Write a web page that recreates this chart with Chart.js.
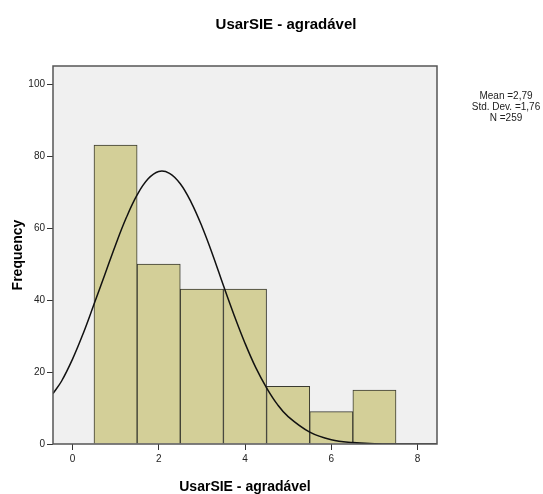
<!DOCTYPE html>
<html>
<head>
<meta charset="utf-8">
<title>UsarSIE - agradável</title>
<script src="https://cdn.jsdelivr.net/npm/chart.js@4.4.1/dist/chart.umd.min.js"></script>
<style>
  html, body { margin: 0; padding: 0; background: #fff; }
  #wrap { width: 543px; height: 494px; }
</style>
</head>
<body>
<div id="wrap"><canvas id="histChart" width="543" height="494"></canvas></div>
<script>
// Histogram bins (score values) and their counts
const scores = [1, 2, 3, 4, 5, 6, 7];
const frequency = [83, 50, 43, 43, 16, 9, 15];

// Normal curve, sampled along the x axis
const curveX = [-0.45, -0.25, 0, 0.25, 0.5, 0.75, 1, 1.25, 1.5, 1.75, 2, 2.25, 2.5, 2.75,
                3, 3.25, 3.5, 3.75, 4, 4.25, 4.5, 4.75, 5, 5.5, 6, 6.5, 7, 7.5, 8, 8.45];
const curveY = [14, 17.5, 23.5, 30.7, 38.8, 47, 55.3, 62.9, 69.2, 73.6, 75.7, 75.2, 72.3, 67.2,
                60.5, 52.6, 44, 35.7, 28, 21.2, 15.6, 11, 7.6, 3.3, 1.2, 0.4, 0.1, 0, 0, 0];

const xTicks = [0, 2, 4, 6, 8];
const yTicks = [0, 20, 40, 60, 80, 100];

const statsLines = ['Mean =2,79', 'Std. Dev. =1,76', 'N =259'];
const chartTitle = 'UsarSIE - agradável';

const FONT = "'Liberation Sans', Arial, sans-serif";

// Grey plot background, frame, main title and the summary text on the right
const decorPlugin = {
    id: 'decor',
    beforeDraw(chart) {
        const { ctx, chartArea: a } = chart;
        ctx.save();
        ctx.fillStyle = '#f0f0f0';
        ctx.fillRect(a.left, a.top, a.right - a.left, a.bottom - a.top);
        ctx.restore();
    },
    afterDraw(chart) {
        const { ctx, chartArea: a } = chart;
        ctx.save();
        ctx.strokeStyle = '#555';
        ctx.lineWidth = 1.5;
        ctx.strokeRect(a.left, a.top, a.right - a.left, a.bottom - a.top);

        ctx.fillStyle = '#000';
        ctx.textAlign = 'center';
        ctx.textBaseline = 'middle';
        ctx.font = 'bold 15px ' + FONT;
        ctx.fillText(chartTitle, 286, 25);

        ctx.font = '10px ' + FONT;
        ctx.fillStyle = '#222';
        statsLines.forEach((line, i) => ctx.fillText(line, 506, 96 + i * 11));
        ctx.restore();
    }
};

const ctx = document.getElementById('histChart').getContext('2d');
const histChart = new Chart(ctx, {
    type: 'bar',
    data: {
        datasets: [{
            type: 'line',
            data: curveX.map((x, i) => ({ x: x, y: curveY[i] })),
            borderColor: '#111',
            borderWidth: 1.5,
            pointRadius: 0,
            tension: 0.4,
            fill: false,
            order: 0
        }, {
            type: 'bar',
            data: scores.map((x, i) => ({ x: x, y: frequency[i] })),
            backgroundColor: '#d3cf98',
            borderColor: '#3a3a30',
            borderWidth: 1,
            barPercentage: 1,
            categoryPercentage: 1,
            order: 1
        }]
    },
    options: {
        responsive: false,
        animation: false,
        layout: { padding: { top: 66, right: 106, left: 0, bottom: 0 } },
        plugins: {
            legend: { display: false },
            tooltip: { enabled: false },
            title: { display: false }
        },
        scales: {
            x: {
                type: 'linear',
                min: -0.45,
                max: 8.45,
                offset: false,
                afterFit: (scale) => { scale.height = 50; },
                afterBuildTicks: (scale) => { scale.ticks = xTicks.map(v => ({ value: v })); },
                grid: { display: true, offset: false, drawOnChartArea: false, drawTicks: true, tickLength: 6, color: '#333' },
                border: { display: false },
                ticks: { color: '#222', padding: 3, font: { family: FONT, size: 10 } },
                title: {
                    display: true,
                    text: 'UsarSIE - agradável',
                    color: '#000',
                    padding: { top: 0, bottom: 0 },
                    font: { family: FONT, size: 14, weight: 'bold', lineHeight: 1 }
                }
            },
            y: {
                min: 0,
                max: 105,
                afterFit: (scale) => { scale.width = 53; },
                afterBuildTicks: (scale) => { scale.ticks = yTicks.map(v => ({ value: v })); },
                grid: { display: true, drawOnChartArea: false, drawTicks: true, tickLength: 6, color: '#333' },
                border: { display: false },
                ticks: { color: '#222', padding: 2, font: { family: FONT, size: 10 } },
                title: {
                    display: true,
                    text: 'Frequency',
                    color: '#000',
                    padding: { top: 11, bottom: 0 },
                    font: { family: FONT, size: 14, weight: 'bold', lineHeight: 1 }
                }
            }
        }
    },
    plugins: [decorPlugin]
});
</script>
</body>
</html>
